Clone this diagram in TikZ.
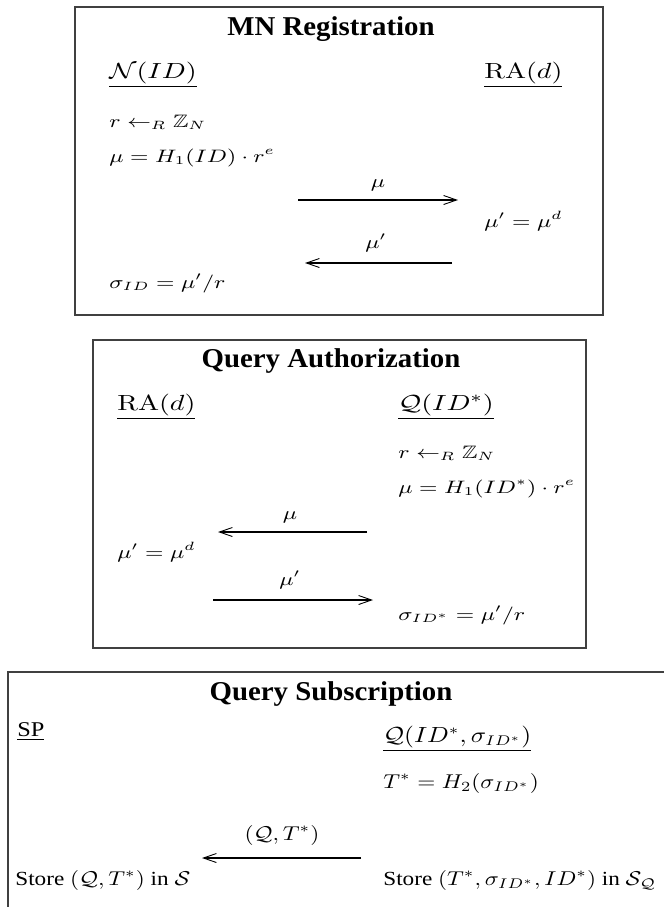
\documentclass[tikz,border=0pt]{standalone}
\usepackage[no-math]{fontspec}
\setmainfont{Liberation Serif}
\usepackage{amssymb}
\usepackage{graphicx}
\usetikzlibrary{arrows.meta}
\newcommand\sxm[1]{\scalebox{1.28}[1]{$#1$}}
\newcommand\sbm[1]{\scalebox{1.16}[1]{$#1$}}
\newcommand\sbt[1]{\scalebox{1.16}[1]{#1}}
\newcommand\ttx[1]{\scalebox{1.06}[1]{#1}}
\begin{document}
\begin{tikzpicture}[x=0.5pt,y=-0.5pt,
  boxframe/.style={draw=black!75, line width=0.9pt},
  ttl/.style={inner sep=0pt, anchor=base, font=\fontsize{13.6}{16}\selectfont\bfseries},
  bodyA/.style={inner sep=0pt, anchor=base west, font=\fontsize{9}{11}\selectfont},
  headA/.style={inner sep=0pt, anchor=base west, font=\fontsize{10.8}{13}\selectfont},
  lblA/.style={inner sep=0pt, anchor=base, font=\fontsize{9}{11}\selectfont},
  bodyB/.style={inner sep=0pt, anchor=base west, font=\fontsize{10}{12}\selectfont},
  headB/.style={inner sep=0pt, anchor=base west, font=\fontsize{10.5}{12}\selectfont},
  lblB/.style={inner sep=0pt, anchor=base, font=\fontsize{10}{12}\selectfont},
  msg/.style={-{Straight Barb[length=6.5pt,width=4.5pt,line width=0.45pt]}, line width=0.55pt},
]
\useasboundingbox (0,0) rectangle (664,907);
\clip (0,0) rectangle (664,907);
\fill[white] (0,0) rectangle (664,907);

% ---------------- Box 1: MN Registration
\draw[boxframe] (75,7) rectangle (603,315);
\node[ttl] (t1) at (331,35) {\ttx{MN Registration}};
\node[headA] (n1) at (109,78) {\sxm{\underline{\mathcal{N}(ID)}}};
\node[headA] (ra1) at (484,78) {\sxm{\underline{\mathrm{RA}(d)}}};
\node[bodyA] (r1) at (109,127) {\sxm{r \leftarrow_R \mathbb{Z}_N}};
\node[bodyA] (mu1) at (109,162) {\sxm{\mu = H_1(ID)\cdot r^e}};
\node[lblA] (l1) at (378,187) {\sxm{\mu}};
\coordinate (a1s) at (298,200);
\coordinate (a1e) at (458,200);
\draw[msg] (a1s) -- (a1e);
\node[bodyA] (md1) at (484,227) {\sxm{\mu' = \mu^d}};
\node[lblA] (l2) at (376,248) {\sxm{\mu'}};
\coordinate (a2s) at (452,263);
\coordinate (a2e) at (305,263);
\draw[msg] (a2s) -- (a2e);
\node[bodyA] (s1) at (109,288) {\sxm{\sigma_{ID} = \mu'/r}};

% ---------------- Box 2: Query Authorization
\draw[boxframe] (93,340) rectangle (586,648);
\node[ttl] (t2) at (331,367) {\ttx{Query Authorization}};
\node[headA] (ra2) at (117,410) {\sxm{\underline{\mathrm{RA}(d)}}};
\node[headA] (q2) at (398,410) {\sxm{\underline{\mathcal{Q}(ID^*)}}};
\node[bodyA] (r2) at (398,458) {\sxm{r \leftarrow_R \mathbb{Z}_N}};
\node[bodyA] (mu2) at (398,493) {\sxm{\mu = H_1(ID^*)\cdot r^e}};
\node[lblA] (l3) at (290,519) {\sxm{\mu}};
\coordinate (a3s) at (367,532);
\coordinate (a3e) at (218,532);
\draw[msg] (a3s) -- (a3e);
\node[bodyA] (md2) at (117,558) {\sxm{\mu' = \mu^d}};
\node[lblA] (l4) at (290,585) {\sxm{\mu'}};
\coordinate (a4s) at (213,600);
\coordinate (a4e) at (373,600);
\draw[msg] (a4s) -- (a4e);
\node[bodyA] (s2) at (398,620) {\sxm{\sigma_{ID^*} = \mu'/r}};

% ---------------- Box 3: Query Subscription
\draw[boxframe] (8,672) rectangle (700,940);
\node[ttl] (t3) at (331,700) {\ttx{Query Subscription}};
\node[headB] (sp3) at (17,736) {\sbt{\underline{SP}}};
\node[headB] (q3) at (383,742) {\sbm{\underline{\mathcal{Q}(ID^*,\sigma_{ID^*})}}};
\node[bodyB] (t3b) at (383,788) {\sbm{T^* = H_2(\sigma_{ID^*})}};
\node[lblB] (l5) at (282,840) {\sbm{(\mathcal{Q},T^*)}};
\coordinate (a5s) at (361,858);
\coordinate (a5e) at (202,858);
\draw[msg] (a5s) -- (a5e);
\node[bodyB] (st1) at (15,885) {\sbt{Store $(\mathcal{Q},T^*)$ in $\mathcal{S}$}};
\node[bodyB] (st2) at (383,885) {\sbt{Store $(T^*,\sigma_{ID^*},ID^*)$ in $\mathcal{S}_{\mathcal{Q}}$}};
\end{tikzpicture}
\end{document}
